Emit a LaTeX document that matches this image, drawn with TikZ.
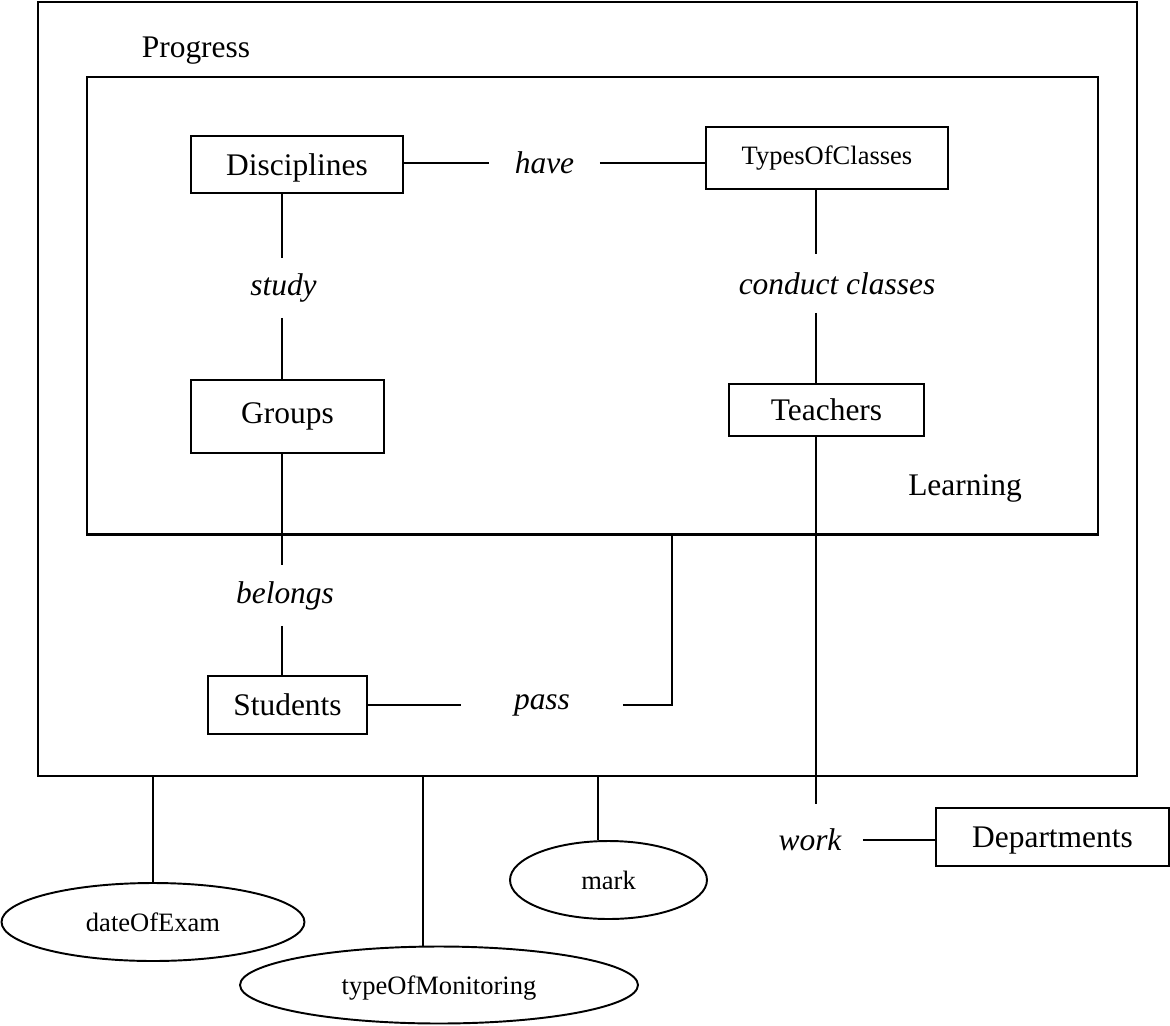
\documentclass[tikz,border=0pt]{standalone}
\usepackage{fontspec}
\setmainfont{Liberation Serif}
\usetikzlibrary{shapes.geometric}
\newcommand{\entfont}{\fontsize{17.9}{20}\selectfont}
\newcommand{\attrfont}{\fontsize{15.1}{18}\selectfont}
\begin{document}
\begin{tikzpicture}[x=0.02cm, y=-0.02cm, line width=1.1pt,
  frame/.style={draw, line width=1.3pt, inner sep=0pt},
  entity/.style={draw, inner sep=0pt, text depth=0pt, font=\entfont},
  attr/.style={draw, ellipse, inner sep=0pt, text depth=0pt, font=\attrfont},
  rel/.style={inner sep=0pt, font=\entfont\itshape}]
\useasboundingbox (0, 0) rectangle (1170, 1025);

\node[frame, minimum width=21.98cm, minimum height=15.48cm] (progress) at (587.5, 389) {};
\node[frame, minimum width=20.22cm, minimum height=9.15cm] (learning) at (592.5, 305.75) {};
\node[font=\entfont] (progresstext) at (196, 51) {Progress};
\node[font=\entfont] (learningtext) at (965, 488) {Learning};

\node[entity, minimum width=4.24cm, minimum height=1.14cm] (disc)   at (297, 164.5)  {Disciplines};
\node[entity, minimum width=4.84cm, minimum height=1.24cm, font=\attrfont, text depth=0.3em] (types) at (827, 158) {TypesOfClasses};
\node[entity, minimum width=3.86cm, minimum height=1.46cm, text depth=0.4em] (groups) at (287.5, 416.5) {Groups};
\node[entity, minimum width=3.9cm,  minimum height=1.04cm, text depth=-0.15em] (teach) at (826.5, 410) {Teachers};
\node[entity, minimum width=3.18cm, minimum height=1.16cm] (stud)   at (287.5, 705)  {Students};
\node[entity, minimum width=4.66cm, minimum height=1.16cm] (dept)   at (1052.5, 837) {Departments};

\node[rel, minimum width=2.18cm]  (have)    at (544.5, 163)  {have};
\node[rel, minimum height=1.16cm] (study)   at (283.5, 288)  {study};
\node[rel, minimum height=1.14cm] (cond)    at (837, 283.5)  {conduct classes};
\node[rel, minimum height=1.18cm] (belongs) at (285, 595.5)  {belongs};
\node[rel, minimum width=3.2cm]   (pass)    at (542, 705)    {pass};
\node[rel, minimum width=2.08cm, minimum height=1.4cm] (work) at (810, 840) {work};

\node[attr, minimum width=6.06cm, minimum height=1.56cm] (date) at (153, 922) {dateOfExam};
\node[attr, minimum width=7.96cm, minimum height=1.54cm] (mon)  at (439, 985) {typeOfMonitoring};
\node[attr, minimum width=3.94cm, minimum height=1.56cm] (mark) at (608.5, 880) {mark};

% columns of the vertical links
\coordinate (lcol) at (282, 0);
\coordinate (rcol) at (816, 0);
\coordinate (pcol) at (672, 0);

\draw (have.west -| disc.east) -- (have.west);
\draw (have.east) -- (have.east -| types.west);
\draw (disc.south -| lcol) -- (study.north -| lcol);
\draw (study.south -| lcol) -- (groups.north -| lcol);
\draw (groups.south -| lcol) -- (belongs.north -| lcol);
\draw (belongs.south -| lcol) -- (stud.north -| lcol);
\draw (stud.east) -- (pass.west);
\draw (pass.east) -| (learning.south -| pcol);
\draw (types.south -| rcol) -- (cond.north -| rcol);
\draw (cond.south -| rcol) -- (teach.north -| rcol);
\draw (teach.south -| rcol) -- (work.north -| rcol);
\draw (work.east) -- (work.east -| dept.west);

\draw (date.north) -- (date.north |- progress.south);
\draw ([xshift=-0.32cm]mon.north) -- ([xshift=-0.32cm]mon.north |- progress.south);
\draw ([xshift=-0.21cm]mark.north) -- ([xshift=-0.21cm]mark.north |- progress.south);
\end{tikzpicture}
\end{document}
